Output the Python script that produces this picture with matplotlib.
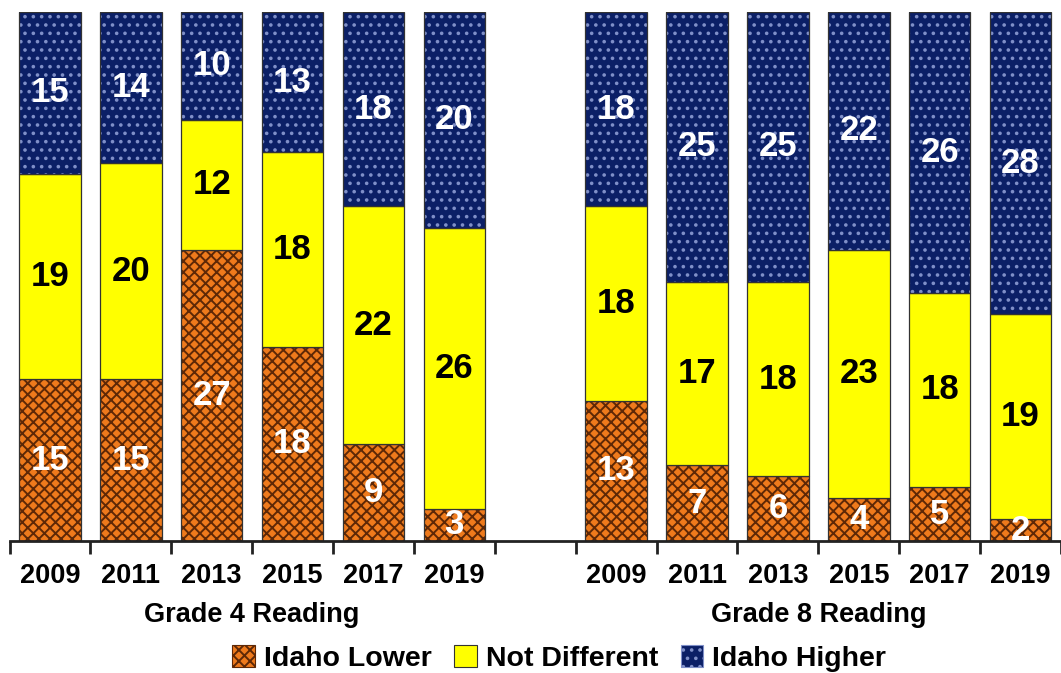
import matplotlib.pyplot as plt
from matplotlib.patches import Patch
from matplotlib import transforms

plt.rcParams['font.family'] = ['Liberation Sans', 'DejaVu Sans']
plt.rcParams['font.weight'] = 'bold'
plt.rcParams['hatch.linewidth'] = 1.4

years = ['2009', '2011', '2013', '2015', '2017', '2019']
g4_lower = [15, 15, 27, 18, 9, 3]
g4_same = [19, 20, 12, 18, 22, 26]
g4_higher = [15, 14, 10, 13, 18, 20]
g8_lower = [13, 7, 6, 4, 5, 2]
g8_same = [18, 17, 18, 23, 18, 19]
g8_higher = [18, 25, 25, 22, 26, 28]
groups = ['Grade 4 Reading', 'Grade 8 Reading']
series = ['Idaho Lower', 'Not Different', 'Idaho Higher']

# colours / hatches per series
face = ['#EE7A1C', '#FFFF00', '#0B1F66']
hatchc = ['#5E2806', '#FFFF00', '#7F8FC8']
hatches = ['xxx', '', '..']
txtc = ['white', 'black', 'white']

fig = plt.figure(figsize=(10.61, 6.73), dpi=100)
ax = fig.add_axes([9.5/1061, 132/673, (1061-9.5)/1061, 529/673])

x4 = list(range(6))
x8 = [i + 7 for i in range(6)]
w = 0.76
for xs, data in [(x4, [g4_lower, g4_same, g4_higher]), (x8, [g8_lower, g8_same, g8_higher])]:
    bottom = [0] * 6
    for k, vals in enumerate(data):
        ax.bar(xs, vals, w, bottom=bottom, color=face[k], edgecolor=hatchc[k],
               hatch=hatches[k], linewidth=0)
        ax.bar(xs, vals, w, bottom=bottom, facecolor='none', edgecolor='#333333', linewidth=0.9)
        for x, v, b in zip(xs, vals, bottom):
            ax.text(x, b + v / 2, str(v), ha='center', va='center', color=txtc[k],
                    fontsize=25, fontweight='bold')
        bottom = [b + v for b, v in zip(bottom, vals)]

ax.set_xlim(-0.5, 12.4)
ax.set_ylim(0, 49)
ax.set_yticks([])
for s in ['top', 'right', 'left']:
    ax.spines[s].set_visible(False)
ax.spines['bottom'].set_linewidth(2)
ax.spines['bottom'].set_color('#222222')

ax.set_xticks(x4 + x8)
ax.set_xticklabels(years + years, fontsize=19.5, fontweight='bold')
ax.tick_params(axis='x', which='major', length=0, pad=16)
ax.set_xticks([i - 0.5 for i in range(14)], minor=True)
ax.tick_params(axis='x', which='minor', length=9, width=2, color='#222222')

trans = transforms.blended_transform_factory(ax.transData, ax.transAxes)
ax.text(sum(x4) / 6, -0.14, groups[0], transform=trans, ha='center', va='center',
        fontsize=19.5, fontweight='bold')
ax.text(sum(x8) / 6, -0.14, groups[1], transform=trans, ha='center', va='center',
        fontsize=19.5, fontweight='bold')

handles = [Patch(facecolor=face[k], edgecolor=hatchc[k] if k != 1 else '#333333',
                 hatch=hatches[k], linewidth=0.8) for k in range(3)]
fig.legend(handles, series, loc='center', bbox_to_anchor=(0.527, 0.022), ncol=3,
           frameon=False, handlelength=0.8, handleheight=0.8,
           handletextpad=0.3, columnspacing=0.8, prop={'weight': 'bold', 'size': 20.5})

fig.savefig('out.png', dpi=100)
